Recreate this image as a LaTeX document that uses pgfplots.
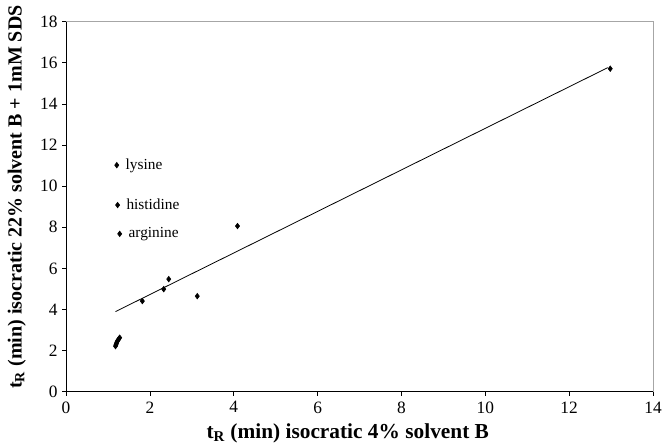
\documentclass[border=0pt]{standalone}
\usepackage{fontspec}
\setmainfont{Liberation Serif}
\usepackage{pgfplots}
\pgfplotsset{compat=1.18}
\usetikzlibrary{calc}
\begin{document}
\begin{tikzpicture}
\begin{axis}[
  scale only axis, width=440pt, height=277.5pt,
  xmin=0, xmax=14, ymin=0, ymax=18,
  xtick distance=2, ytick distance=2,
  tick align=outside, tick pos=left, major tick length=2.8pt,
  tick style={black, line width=0.5pt},
  axis line style={gray!70, line width=0.6pt},
  ticklabel style={font=\fontsize{13}{15}\selectfont},
  xticklabel style={yshift=-1pt},
  /pgf/number format/assume math mode=true,
  clip=false,
  xlabel={\textbf{t\textsubscript{R} (min) isocratic 4\% solvent B}},
  ylabel={\textbf{t\textsubscript{R} (min) isocratic 22\% solvent B + 1mM SDS}},
  xlabel style={font=\fontsize{16}{18}\selectfont, at={(axis description cs:0.48,-0.111)}, anchor=center},
  ylabel style={font=\fontsize{15}{17}\selectfont, at={(axis description cs:-0.084,0.526)}, anchor=center},
]
\draw[black, line width=0.6pt] (rel axis cs:0,1) -- (rel axis cs:0,0) -- (rel axis cs:1,0);
\addplot[black, line width=0.6pt] coordinates {(1.18,3.90) (12.92,15.76)};
\addplot[only marks, mark=diamond*, mark size=2.1pt, black] table {
x y
1.18 2.22
1.19 2.28
1.20 2.33
1.21 2.39
1.22 2.45
1.24 2.51
1.26 2.57
1.28 2.63
1.82 4.41
2.33 4.99
2.45 5.48
3.13 4.65
4.09 8.06
12.98 15.71
};
\addplot[only marks, mark=diamond*, mark size=2.1pt, black,
  nodes near coords, point meta=explicit symbolic,
  every node near coord/.style={anchor=base west, font=\fontsize{11.5}{13}\selectfont, inner sep=1pt, xshift=5.5pt, yshift=-3pt, text=black}]
  table[meta=label] {
x y label
1.21 11.02 lysine
1.23 9.08 histidine
1.28 7.68 arginine
};
\end{axis}
\pgfresetboundingbox
\path ($(current axis.south west)+(-49.5pt,-39.75pt)$) rectangle ($(current axis.north east)+(10.5pt,16.2pt)$);
\end{tikzpicture}
\end{document}
